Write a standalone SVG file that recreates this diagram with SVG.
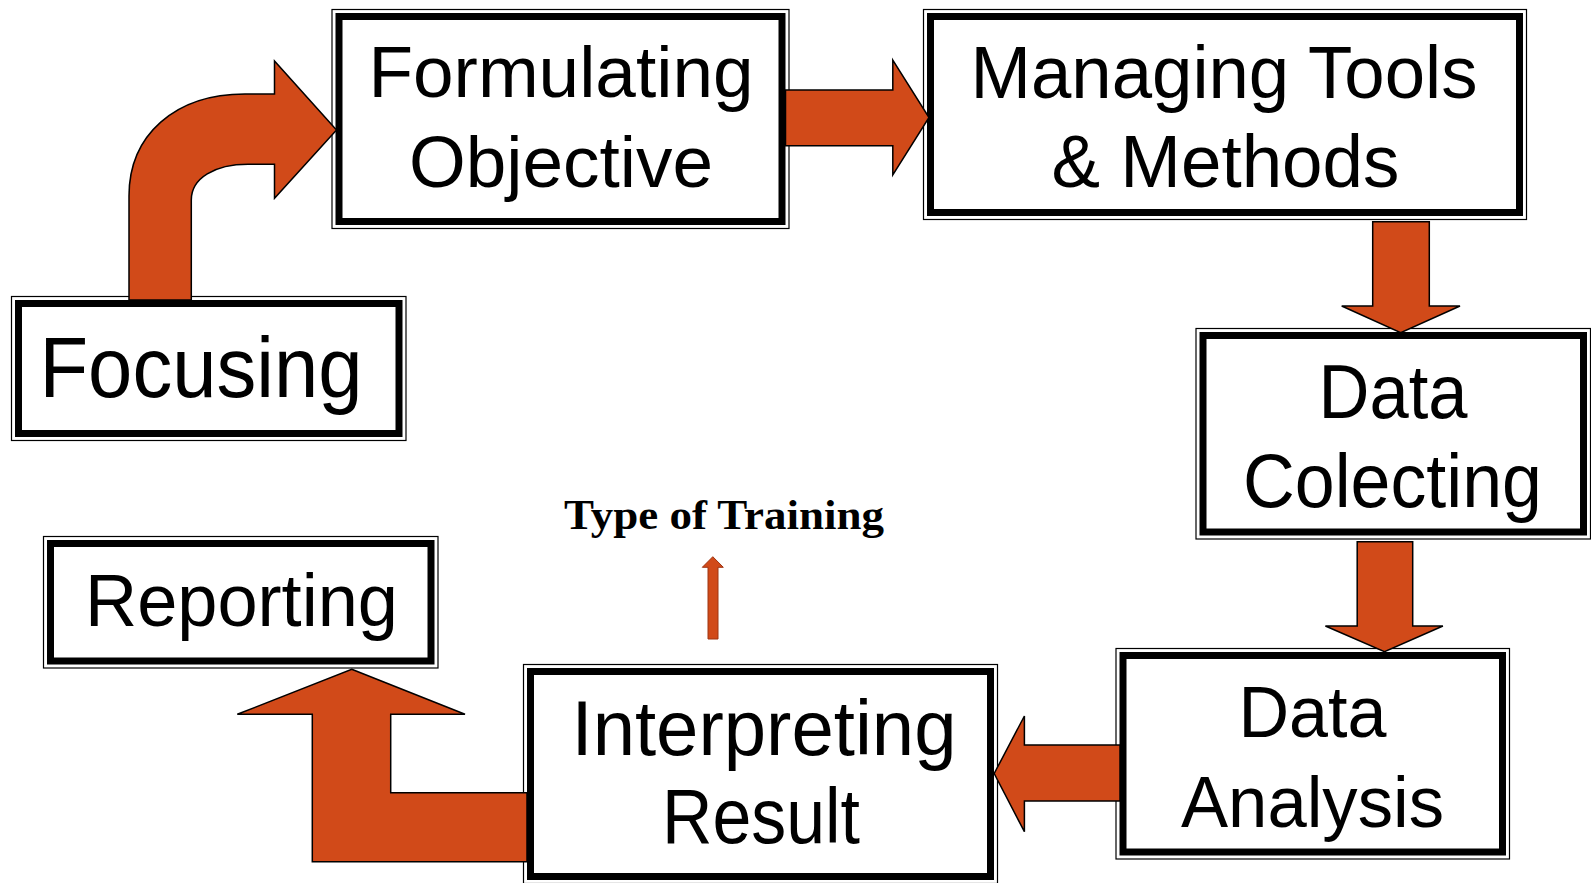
<svg xmlns="http://www.w3.org/2000/svg" width="1591" height="883" viewBox="0 0 1591 883">
<style>
.outer{fill:#fff;stroke:#000;stroke-width:1.2}
.inner{fill:none;stroke:#000;stroke-width:7}
.lbl{font-family:"Liberation Sans",Arial,sans-serif;fill:#000}
.arr{fill:#D14A19;stroke:#000;stroke-width:1.5;stroke-linejoin:miter}
.thin{fill:#D14A19;stroke:#9E3412;stroke-width:1}
.note{font-family:"Liberation Serif","Times New Roman",serif;font-weight:bold;fill:#000}
</style>
<rect width="1591" height="883" fill="#fff"/>
<g id="node-focusing">
<rect class="outer" x="11.5" y="296.5" width="394.5" height="144"/>
<rect class="inner" x="18.5" y="303.5" width="380.5" height="130"/>
<text class="lbl" x="39.5" y="396.7" font-size="85" textLength="323" lengthAdjust="spacingAndGlyphs">Focusing</text>
</g>
<g id="node-formulating">
<rect class="outer" x="332" y="9.5" width="457" height="219"/>
<rect class="inner" x="339" y="16.5" width="443" height="205"/>
<text class="lbl" x="368.5" y="97.3" font-size="73" textLength="385" lengthAdjust="spacingAndGlyphs">Formulating</text>
<text class="lbl" x="409" y="187.3" font-size="73" textLength="304" lengthAdjust="spacingAndGlyphs">Objective</text>
</g>
<g id="node-managing">
<rect class="outer" x="923.5" y="9.5" width="603" height="210"/>
<rect class="inner" x="930.5" y="16.5" width="589" height="196"/>
<text class="lbl" x="970.5" y="98.3" font-size="74" textLength="507" lengthAdjust="spacingAndGlyphs">Managing Tools</text>
<text class="lbl" x="1051.5" y="187.3" font-size="74" textLength="348" lengthAdjust="spacingAndGlyphs">&amp; Methods</text>
</g>
<g id="node-collecting">
<rect class="outer" x="1196" y="328.5" width="394.5" height="210.5"/>
<rect class="inner" x="1203" y="335.5" width="380.5" height="196.5"/>
<text class="lbl" x="1318.5" y="418.3" font-size="76" textLength="149" lengthAdjust="spacingAndGlyphs">Data</text>
<text class="lbl" x="1243" y="507.3" font-size="76" textLength="299" lengthAdjust="spacingAndGlyphs">Colecting</text>
</g>
<g id="node-analysis">
<rect class="outer" x="1116" y="648.5" width="393.5" height="210.5"/>
<rect class="inner" x="1123" y="655.5" width="379.5" height="196.5"/>
<text class="lbl" x="1238.5" y="737.3" font-size="73" textLength="148" lengthAdjust="spacingAndGlyphs">Data</text>
<text class="lbl" x="1181" y="827.3" font-size="73" textLength="263" lengthAdjust="spacingAndGlyphs">Analysis</text>
</g>
<g id="node-interpreting">
<rect class="outer" x="523.5" y="664.5" width="474" height="219"/>
<rect class="inner" x="530.5" y="671.5" width="460" height="205"/>
<text class="lbl" x="571.5" y="755" font-size="77" textLength="385" lengthAdjust="spacingAndGlyphs">Interpreting</text>
<text class="lbl" x="662" y="843" font-size="77" textLength="198" lengthAdjust="spacingAndGlyphs">Result</text>
</g>
<g id="node-reporting">
<rect class="outer" x="43.5" y="536.5" width="394.5" height="131.5"/>
<rect class="inner" x="50.5" y="543.5" width="380.5" height="117.5"/>
<text class="lbl" x="85" y="626" font-size="74" textLength="313" lengthAdjust="spacingAndGlyphs">Reporting</text>
</g>
<g id="label-type-of-training">
<text class="note" x="564" y="529.3" font-size="43" textLength="320" lengthAdjust="spacingAndGlyphs">Type of Training</text>
</g>
<g id="connectors">
<path class="arr" d="M129,300 L129,196 C129,135 175,94 245,94 L274.5,94 L274.5,61 L336.5,130 L274.5,198.3 L274.5,164.3 L248,164.3 C215,164.3 191.3,178 191.3,200 L191.3,300 Z"/>
<path class="arr" d="M785.5,90 L892.8,90 L892.8,60 L929,117.5 L892.8,175 L892.8,145.7 L785.5,145.7 Z"/>
<path class="arr" d="M1372.7,221.7 L1429.3,221.7 L1429.3,306 L1460,306 L1400.7,332.7 L1341.7,306 L1372.7,306 Z"/>
<path class="arr" d="M1357.2,541.7 L1412.7,541.7 L1412.7,626 L1442.9,626 L1384.5,651.7 L1325.4,626 L1357.2,626 Z"/>
<path class="arr" d="M1120,745 L1024.4,745 L1024.4,716 L994.2,773.5 L1024.4,831.7 L1024.4,801 L1120,801 Z"/>
<path class="arr" d="M351.7,669.3 L465,714.3 L390.7,714.3 L390.7,792.7 L527,792.7 L527,861.7 L312.3,861.7 L312.3,714.3 L237.3,714.3 Z"/>
<path class="thin" d="M708,639 L708,567.3 L702.3,567.3 L712.8,556.7 L723.3,567.3 L718,567.3 L718,639 Z"/>
</g>
</svg>
